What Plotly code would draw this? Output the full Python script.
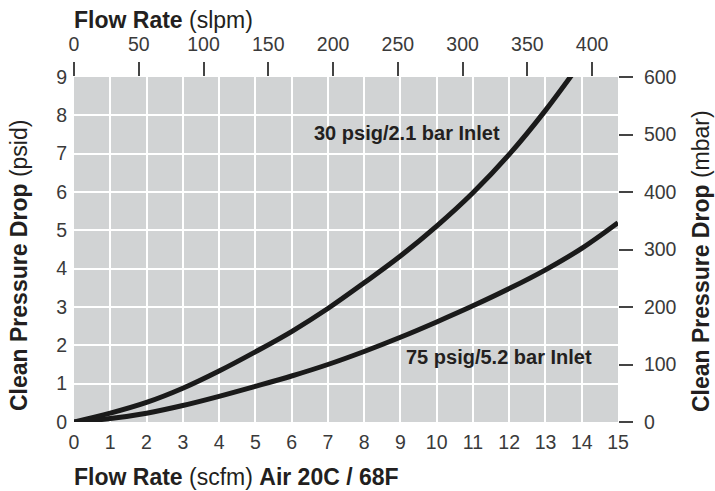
import plotly.graph_objects as go

# Data
scfm_30 = [0, 1, 2, 3, 4, 5, 6, 7, 8, 9, 10, 11, 12, 13, 14]
psid_30 = [0, 0.23, 0.51, 0.88, 1.33, 1.83, 2.36, 2.96, 3.63, 4.33, 5.11, 5.98, 6.98, 8.13, 9.41]

scfm_75 = [0, 1, 2, 3, 4, 5, 6, 7, 8, 9, 10, 11, 12, 13, 14, 15]
psid_75 = [0, 0.09, 0.23, 0.43, 0.67, 0.93, 1.2, 1.5, 1.84, 2.21, 2.61, 3.03, 3.48, 3.97, 4.53, 5.2]

x_ticks_scfm = list(range(0, 16))
y_ticks_psid = list(range(0, 10))
x_ticks_slpm = [0, 50, 100, 150, 200, 250, 300, 350, 400]
y_ticks_mbar = [0, 100, 200, 300, 400, 500, 600]
slpm_range = [0, 420]
mbar_range = [0, 600]

label_30 = "30 psig/2.1 bar Inlet"
label_75 = "75 psig/5.2 bar Inlet"

FONT = "Liberation Sans, Arial, sans-serif"
TICK_COLOR = "#3a3a3a"
TITLE_COLOR = "#231f20"
LINE_COLOR = "#1a1a1a"

W, H = 715, 491
L, R, T, B = 74, 618, 77, 422  # plot area in pixels

fig = go.Figure()
fig.add_trace(go.Scatter(x=scfm_30, y=psid_30, mode="lines",
                         line=dict(color=LINE_COLOR, width=5, shape="spline", smoothing=1.0),
                         hoverinfo="skip", showlegend=False))
fig.add_trace(go.Scatter(x=scfm_75, y=psid_75, mode="lines",
                         line=dict(color=LINE_COLOR, width=5, shape="spline", smoothing=1.0),
                         hoverinfo="skip", showlegend=False))
# invisible traces so the secondary axes are drawn
fig.add_trace(go.Scatter(x=slpm_range, y=[0, 0], xaxis="x2", yaxis="y", mode="markers",
                         marker=dict(opacity=0), hoverinfo="skip", showlegend=False))
fig.add_trace(go.Scatter(x=[0, 0], y=mbar_range, xaxis="x", yaxis="y2", mode="markers",
                         marker=dict(opacity=0), hoverinfo="skip", showlegend=False))

def px2x(px):
    return (px - L) / (R - L)

def py2y(py):
    return (B - py) / (B - T)

tickfont = dict(family=FONT, size=19.5, color=TICK_COLOR)

fig.update_layout(
    width=W, height=H,
    margin=dict(l=L, r=W - R, t=T, b=H - B, pad=0),
    paper_bgcolor="white",
    plot_bgcolor="#d1d3d4",
    showlegend=False,
    xaxis=dict(range=[0, 15], tickvals=x_ticks_scfm, showgrid=True, gridcolor="white",
               gridwidth=2, zeroline=False, showline=False, ticks="",
               tickfont=tickfont, ticklabelstandoff=6, fixedrange=True),
    yaxis=dict(range=[0, 9], tickvals=y_ticks_psid, showgrid=True, gridcolor="white",
               gridwidth=2, zeroline=False, showline=False, ticks="",
               tickfont=tickfont, ticklabelstandoff=6, fixedrange=True),
    xaxis2=dict(range=slpm_range, tickvals=x_ticks_slpm, overlaying="x", side="top",
                anchor="y", showgrid=False, zeroline=False, showline=False,
                ticks="outside", ticklen=14, tickwidth=1.5, tickcolor="#444444",
                tickfont=tickfont, ticklabelstandoff=3, fixedrange=True),
    yaxis2=dict(range=mbar_range, tickvals=y_ticks_mbar, overlaying="y", side="right",
                anchor="x", showgrid=False, zeroline=False, showline=False,
                ticks="outside", ticklen=14, tickwidth=1.5, tickcolor="#444444",
                tickfont=tickfont, ticklabelstandoff=7, fixedrange=True),
)

titlefont = dict(family=FONT, size=23, color=TITLE_COLOR)
annots = [
    dict(text="<b>Flow Rate</b> (slpm)", x=px2x(72), y=py2y(20), xanchor="left", yanchor="middle"),
    dict(text="<b>Flow Rate</b> (scfm) <b>Air 20C / 68F</b>", x=px2x(72), y=py2y(477),
         xanchor="left", yanchor="middle"),
    dict(text="<b>Clean Pressure Drop</b> (psid)", x=px2x(19), y=py2y(266), textangle=-90,
         xanchor="center", yanchor="middle"),
    dict(text="<b>Clean Pressure Drop</b> (mbar)", x=px2x(701), y=py2y(261), textangle=-90,
         xanchor="center", yanchor="middle"),
]
for a in annots:
    fig.add_annotation(xref="paper", yref="paper", showarrow=False, font=titlefont, **a)

labelfont = dict(family=FONT, size=20, color=TITLE_COLOR)
fig.add_annotation(x=11.8, y=7.54, text="<b>" + label_30 + "</b>", showarrow=False,
                   xanchor="right", yanchor="middle", font=labelfont)
fig.add_annotation(x=14.34, y=1.70, text="<b>" + label_75 + "</b>", showarrow=False,
                   xanchor="right", yanchor="middle", font=labelfont)

fig.write_html("out.html", config={"displayModeBar": False},
               post_script="document.body.style.margin='0';document.body.style.overflow='hidden';")
